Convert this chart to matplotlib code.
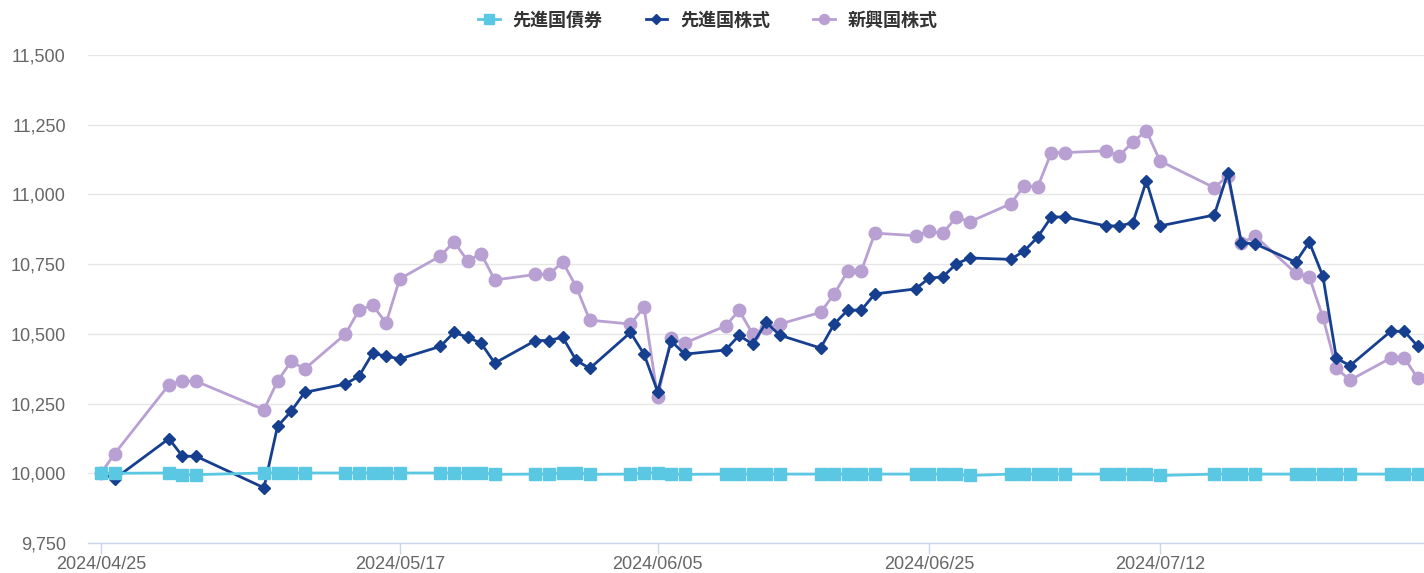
import pandas as pd
import matplotlib
matplotlib.use('Agg')
import matplotlib.pyplot as plt
import matplotlib.dates as mdates
from matplotlib.ticker import FuncFormatter, FixedLocator

# Japanese trading days 2024/04/25 - 2024/07/31
holidays = ['2024-04-29', '2024-05-03', '2024-05-06', '2024-07-15']
dates = pd.bdate_range('2024-04-25', '2024-07-31', freq='C', holidays=holidays)

series_names = ['先進国債券', '先進国株式', '新興国株式']

dm_bond = [10000, 10000, 10001, 9995, 9995, 10001, 10001, 10001, 10001,
           10001, 10001, 10001, 10001, 10001,
           10001, 10001, 10002, 10002, 9996,
           9997, 9997, 10002, 10002, 9996,
           9997, 10002, 10002, 9996, 9996,
           9997, 9997, 9997, 9997, 9997,
           9997, 9997, 9997, 9997, 9997,
           9997, 9997, 9997, 9997, 9992,
           9997, 9997, 9997, 9997, 9997,
           9997, 9997, 9997, 9997, 9992,
           9997, 9997, 9997, 9997,
           9997, 9997, 9997, 9997, 9997,
           9997, 9997, 9997]

dm_equity = [10000, 9980, 10124, 10061, 10061, 9948, 10168, 10222, 10290,
             10320, 10348, 10430, 10420, 10410,
             10455, 10505, 10488, 10466, 10395,
             10476, 10476, 10488, 10405, 10376,
             10505, 10427, 10293, 10474, 10427,
             10442, 10494, 10463, 10541, 10495,
             10449, 10535, 10585, 10585, 10643,
             10661, 10700, 10704, 10751, 10772,
             10767, 10797, 10847, 10919, 10919,
             10887, 10887, 10898, 11048, 10887,
             10926, 11077, 10826, 10823,
             10757, 10829, 10707, 10412, 10386,
             10509, 10509, 10455]

em_equity = [10000, 10070, 10317, 10330, 10330, 10228, 10330, 10401, 10374,
             10499, 10585, 10603, 10539, 10697,
             10779, 10830, 10762, 10787, 10693,
             10713, 10713, 10758, 10669, 10549,
             10535, 10595, 10272, 10484, 10467,
             10528, 10584, 10500, 10522, 10535,
             10577, 10642, 10725, 10725, 10861,
             10852, 10867, 10861, 10918, 10902,
             10966, 11031, 11028, 11150, 11150,
             11156, 11138, 11188, 11228, 11120,
             11024, 11066, 10825, 10851,
             10718, 10704, 10560, 10376, 10334,
             10413, 10413, 10340]

x_ticks = ['2024-04-25', '2024-05-17', '2024-06-05', '2024-06-25', '2024-07-12']
y_ticks = [9750, 10000, 10250, 10500, 10750, 11000, 11250, 11500]

fig = plt.figure(figsize=(14.24, 5.73), dpi=100)
ax = fig.add_axes([0.0618, 0.0524, 0.9382, 0.8517])

ax.plot(dates, dm_bond, color='#5bc8e3', lw=2.0, marker='s', ms=8.3,
        label=series_names[0], zorder=6)
ax.plot(dates, em_equity, color='#b9a0d3', lw=2.0, marker='o', ms=9.0,
        label=series_names[2], zorder=4)
ax.plot(dates, dm_equity, color='#163f8f', lw=2.0, marker='D', ms=6.2,
        label=series_names[1], zorder=5)

start = pd.Timestamp('2024-04-25')
ax.set_xlim(start - pd.Timedelta(days=0.96), start + pd.Timedelta(days=97.45))
ax.set_ylim(9750, 11500)

ax.xaxis.set_major_locator(FixedLocator(mdates.date2num(pd.to_datetime(x_ticks))))
ax.xaxis.set_major_formatter(mdates.DateFormatter('%Y/%m/%d'))
ax.yaxis.set_major_locator(FixedLocator(y_ticks))
ax.yaxis.set_major_formatter(FuncFormatter(lambda v, p: f'{int(v):,}'))

for s in ['top', 'right', 'left']:
    ax.spines[s].set_visible(False)
ax.spines['bottom'].set_color('#ccd6eb')
ax.spines['bottom'].set_linewidth(1.0)
ax.grid(axis='y', color='#e6e6e6', lw=1.0)
ax.set_axisbelow(True)

ax.tick_params(axis='y', length=0, pad=16, labelsize=13, labelcolor='#666666')
ax.tick_params(axis='x', length=8, width=1, color='#ccd6eb', pad=1.5,
               labelsize=13, labelcolor='#666666')
for lab in ax.get_xticklabels() + ax.get_yticklabels():
    lab.set_family(['Liberation Sans', 'DejaVu Sans'])

handles, labels = ax.get_legend_handles_labels()
order = [0, 2, 1]
leg = fig.legend([handles[i] for i in order], [labels[i] for i in order],
                 loc='center', bbox_to_anchor=(0.497, 0.965), ncol=3,
                 frameon=False, handlelength=1.2, handletextpad=0.7,
                 columnspacing=2.4, markerscale=0.8,
                 prop={'family': ['Noto Sans CJK JP', 'DejaVu Sans'],
                       'weight': 'bold', 'size': 13})
for t in leg.get_texts():
    t.set_color('#333333')

fig.savefig('out.png', dpi=100)
